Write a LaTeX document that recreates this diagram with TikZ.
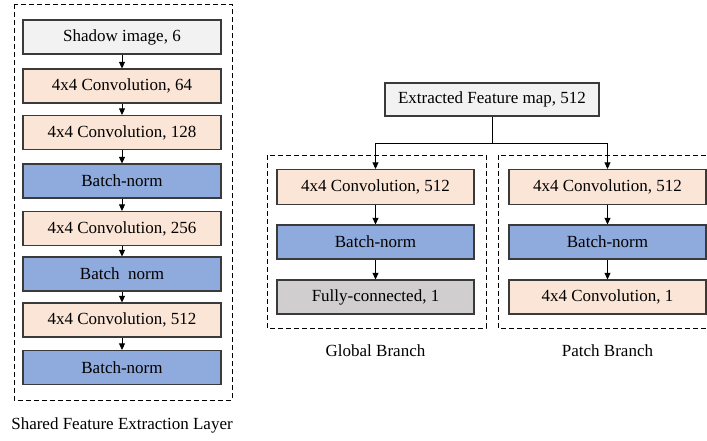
\documentclass[tikz,border=0pt]{standalone}
\usepackage{fontspec}
\setmainfont{Liberation Serif}
\usetikzlibrary{arrows.meta}
\definecolor{edge}{HTML}{3A3A3A}
\definecolor{inputgray}{HTML}{F2F2F2}
\definecolor{convpeach}{HTML}{FBE5D6}
\definecolor{normblue}{HTML}{8FAADC}
\definecolor{fcgray}{HTML}{D0CECE}
\tikzset{
  layer/.style={draw=edge, line width=1.2pt, minimum width=198pt, minimum height=34pt,
    inner sep=0pt, font=\fontsize{17}{20}\selectfont, text=black},
  inbox/.style={layer, fill=inputgray},
  convbox/.style={layer, fill=convpeach},
  normbox/.style={layer, fill=normblue},
  fcbox/.style={layer, fill=fcgray},
  frame/.style={draw=black, line width=1pt, dash pattern=on 5pt off 3pt},
  caption/.style={font=\fontsize{17}{20}\selectfont, inner sep=0pt},
  arr/.style={draw=black, line width=0.9pt, -{Triangle[length=6.5pt,width=6pt]}}
}
\begin{document}
\begin{tikzpicture}[x=1pt,y=-1pt]
\useasboundingbox (0,0) rectangle (707,440);

% shared feature extraction stack
\draw[frame] (14,4) rectangle (232,400);
\node[inbox]   (s1) at (122,37)    {Shadow image, 6};
\node[convbox] (s2) at (122,86)    {4x4 Convolution, 64};
\node[convbox] (s3) at (122,132.5) {4x4 Convolution, 128};
\node[normbox] (s4) at (122,181)   {Batch-norm};
\node[convbox] (s5) at (122,228.5) {4x4 Convolution, 256};
\node[normbox] (s6) at (122,274)   {Batch\ \ norm};
\node[convbox] (s7) at (122,320)   {4x4 Convolution, 512};
\node[normbox] (s8) at (122,367.5) {Batch-norm};
\foreach \a/\b in {s1/s2,s2/s3,s3/s4,s4/s5,s5/s6,s6/s7,s7/s8}
  \draw[arr] (\a.south) -- (\b.north);
\node[caption] (sc) at (122,425) {Shared Feature Extraction Layer};

% extracted feature map and fork
\node[inbox, minimum width=214pt, minimum height=33pt] (fm) at (492,99.5) {Extracted Feature map, 512};
\coordinate (split) at (492,143);

% global branch
\draw[frame] (267,155) rectangle (486,328);
\node[convbox, minimum width=197pt, minimum height=35pt] (g1) at (375.5,187) {4x4 Convolution, 512};
\node[normbox, minimum width=197pt] (g2) at (375.5,242) {Batch-norm};
\node[fcbox,   minimum width=197pt] (g3) at (375.5,297) {Fully-connected, 1};
\node[caption] (gc) at (375.5,351) {Global Branch};

% patch branch (frame runs past the right edge)
\begin{scope}
  \clip (0,0) rectangle (707,440);
  \draw[frame] (498,155) rectangle (717,328);
\end{scope}
\node[convbox, minimum width=197pt, minimum height=35pt] (p1) at (607.5,187) {4x4 Convolution, 512};
\node[normbox, minimum width=197pt] (p2) at (607.5,242) {Batch-norm};
\node[convbox, minimum width=197pt] (p3) at (607.5,297) {4x4 Convolution, 1};
\node[caption] (pc) at (607.5,351) {Patch Branch};

\draw[line width=0.9pt] (fm.south) -- (split);
\draw[arr] (split) -| (g1.north);
\draw[arr] (split) -| (p1.north);
\draw[arr] (g1.south) -- (g2.north);
\draw[arr] (g2.south) -- (g3.north);
\draw[arr] (p1.south) -- (p2.north);
\draw[arr] (p2.south) -- (p3.north);
\end{tikzpicture}
\end{document}
